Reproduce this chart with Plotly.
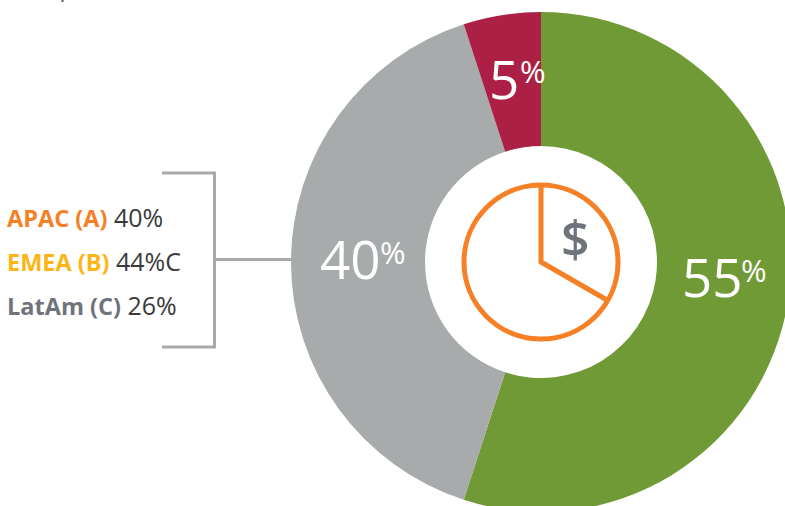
import plotly.graph_objects as go

# Revenue split shown on the ring
slice_names = ["Growth", "Steady", "Decline"]
slice_values = [55, 40, 5]
slice_colors = ["#6f9a35", "#a7abab", "#ab2044"]

# Regional breakdown listed beside the bracket
regions = ["APAC (A)", "EMEA (B)", "LatAm (C)"]
region_values = ["40%", "44%C", "26%"]
region_colors = ["#f58025", "#fdb515", "#6f747c"]

W, H = 800, 520  # canvas runs slightly past the visible window so the ring is cropped
CX, CY, R = 541, 262, 250
INNER_R = 116
GREY_LINE = "#a7abab"
ORANGE = "#f58025"
FONT = "Open Sans, Noto Sans, sans-serif"


def px(x):
    return x / W


def py(y):
    return 1 - y / H


fig = go.Figure(
    go.Pie(
        labels=slice_names,
        values=slice_values,
        hole=INNER_R / R,
        sort=False,
        direction="clockwise",
        rotation=0,
        marker=dict(colors=slice_colors, line=dict(width=0)),
        textinfo="none",
        hoverinfo="skip",
        showlegend=False,
        domain=dict(x=[px(CX - R), px(CX + R)], y=[py(CY + R), py(CY - R)]),
    )
)


def seg(x0, y0, x1, y1, color, width):
    return dict(
        type="line", xref="paper", yref="paper",
        x0=px(x0), y0=py(y0), x1=px(x1), y1=py(y1),
        line=dict(color=color, width=width),
    )


shapes = [
    # bracket joining the region list to the grey slice
    seg(162, 173, 216, 173, GREY_LINE, 3),
    seg(162, 347, 216, 347, GREY_LINE, 3),
    seg(214.5, 172, 214.5, 348, GREY_LINE, 3),
    seg(214.5, 259.5, 292, 259.5, GREY_LINE, 3),
    # small stroke at the top edge
    seg(62.5, 0, 62.5, 2, "#55565a", 2),
    # pie-chart icon in the hole
    dict(
        type="circle", xref="paper", yref="paper",
        x0=px(CX - 77), x1=px(CX + 77), y0=py(CY + 77), y1=py(CY - 77),
        line=dict(color=ORANGE, width=5),
    ),
    dict(
        type="path", xref="paper", yref="paper",
        path=f"M {px(CX)} {py(CY - 77)} L {px(CX)} {py(CY)} L {px(CX + 66)} {py(CY + 38)}",
        line=dict(color=ORANGE, width=5),
    ),
]


def text(x, y, s, size, color, anchor="left", weight="normal"):
    return dict(
        x=px(x), y=py(y), xref="paper", yref="paper", text=s, showarrow=False,
        xanchor=anchor, yanchor="middle", align="left",
        font=dict(family=FONT, size=size, color=color, weight=weight),
    )


annotations = []
for name, val, col, y, in zip(regions, region_values, region_colors, [217, 261, 305]):
    annotations.append(
        text(
            5, y,
            f'<span style="color:{col}"><b>{name}</b></span>'
            f'<span style="font-size:25px"> {val}</span>',
            23.5, "#3a3a3c",
        )
    )

annotations += [
    text(680, 276, str(slice_values[0]), 53, "white"),
    text(739, 270, "%", 31, "white"),
    text(318, 258, str(slice_values[1]), 53, "white"),
    text(378, 252, "%", 31, "white"),
    text(487, 78, str(slice_values[2]), 53, "white"),
    text(518, 71, "%", 31, "white"),
    text(575, 238, "$", 50, "#6f747c", anchor="center", weight=600),
]

fig.update_layout(
    width=W, height=H,
    margin=dict(l=0, r=0, t=0, b=0),
    paper_bgcolor="white",
    shapes=shapes,
    annotations=annotations,
)

fig.write_html(
    "out.html",
    config=dict(displayModeBar=False),
    post_script="document.documentElement.style.overflow='hidden';document.body.style.overflow='hidden';",
)
